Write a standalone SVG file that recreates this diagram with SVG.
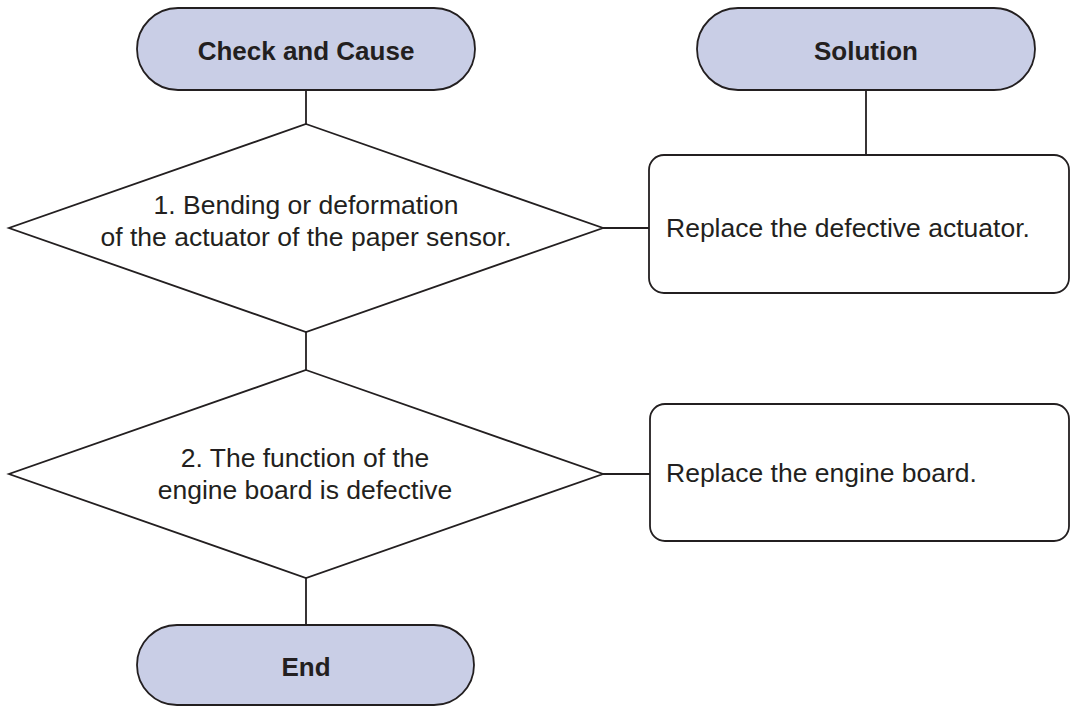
<svg xmlns="http://www.w3.org/2000/svg" width="1070" height="706" viewBox="0 0 1070 706">
<style>
.term{fill:#c9cee6;stroke:#231f20;stroke-width:1.8}
.dec{fill:#ffffff;stroke:#231f20;stroke-width:1.8}
.box{fill:#ffffff;stroke:#231f20;stroke-width:1.8}
.conn{fill:none;stroke:#231f20;stroke-width:1.8}
.tb{font-family:"Liberation Sans",Arial,sans-serif;font-weight:bold;font-size:26px;fill:#231f20;text-anchor:middle}
.t{font-family:"Liberation Sans",Arial,sans-serif;font-size:26.5px;fill:#231f20}
.tc{text-anchor:middle}
</style>
<rect width="1070" height="706" fill="#ffffff"/>
<g id="connectors">
<line class="conn" x1="306" y1="90" x2="306" y2="124"/>
<line class="conn" x1="306" y1="332" x2="306" y2="370"/>
<line class="conn" x1="306" y1="578" x2="306" y2="625"/>
<line class="conn" x1="866" y1="90" x2="866" y2="155"/>
<line class="conn" x1="603" y1="228" x2="649" y2="228"/>
<line class="conn" x1="603" y1="474" x2="650" y2="474"/>
</g>
<g id="check-and-cause">
<rect class="term" x="137" y="8" width="338" height="82" rx="41" ry="41"/>
<text class="tb" x="306" y="60">Check and Cause</text>
</g>
<g id="solution">
<rect class="term" x="697" y="8" width="338" height="82" rx="41" ry="41"/>
<text class="tb" x="866" y="60">Solution</text>
</g>
<g id="decision-1">
<polygon class="dec" points="306,124 603,228 306,332 9,228"/>
<text class="t tc" x="306" y="214">1. Bending or deformation</text>
<text class="t tc" x="306" y="246">of the actuator of the paper sensor.</text>
</g>
<g id="solution-1">
<rect class="box" x="649" y="155" width="420" height="138" rx="15" ry="15"/>
<text class="t" x="666" y="237">Replace the defective actuator.</text>
</g>
<g id="decision-2">
<polygon class="dec" points="306,370 603,474 306,578 9,474"/>
<text class="t tc" x="305" y="467">2. The function of the</text>
<text class="t tc" x="305" y="499">engine board is defective</text>
</g>
<g id="solution-2">
<rect class="box" x="650" y="404" width="419" height="137" rx="15" ry="15"/>
<text class="t" x="666" y="482">Replace the engine board.</text>
</g>
<g id="end">
<rect class="term" x="137" y="625" width="337" height="80" rx="40" ry="40"/>
<text class="tb" x="306" y="676">End</text>
</g>
</svg>
